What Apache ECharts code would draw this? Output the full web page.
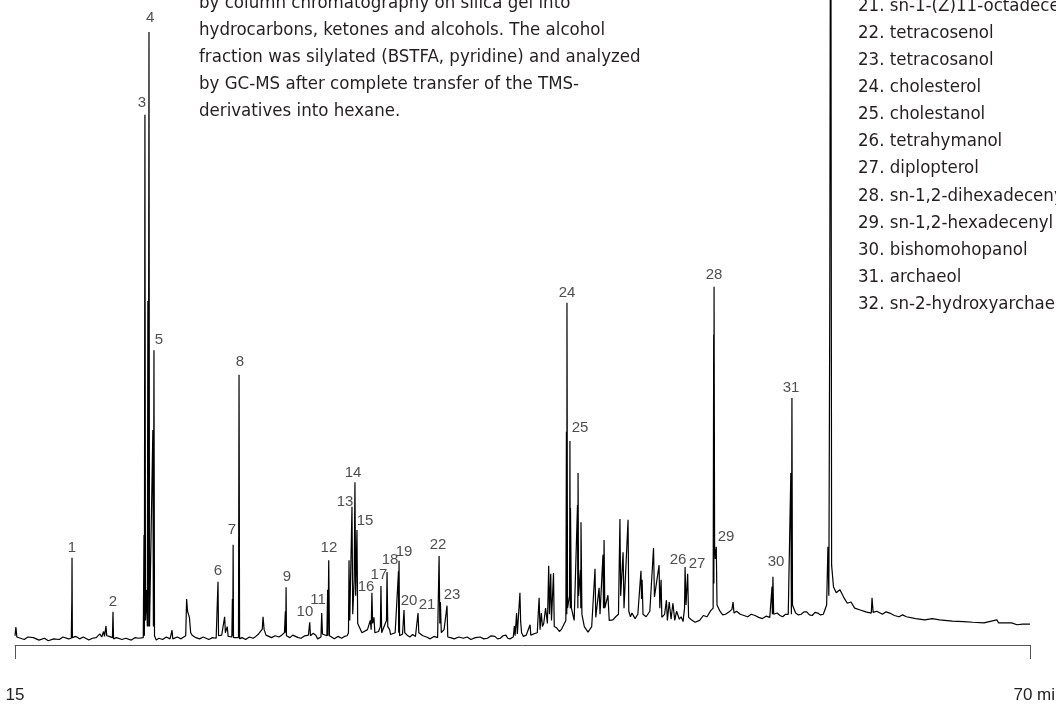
<!DOCTYPE html>
<html>
<head>
<meta charset="utf-8">
<script src="https://cdn.jsdelivr.net/npm/echarts@6/dist/echarts.min.js"></script>
<style>
  html, body { margin: 0; padding: 0; background: #fff; }
  #main { width: 1056px; height: 705px; }
</style>
</head>
<body>
<div id="main"></div>
<script>
// GC-MS trace of the silylated alcohol fraction
// [retention time (min), abundance (% of peak 4)]
var trace1 = [
  [15.0,1.5],[15.05,2.9],[15.1,1.3],[15.3,1.1],[15.5,0.9],[15.7,1.3],[16.0,1.2],[16.3,0.8],[16.6,1.1],
  [16.8,0.7],[17.1,1.0],[17.4,0.9],[17.6,1.3],[17.9,1.0],
  [18.05,1.1],[18.08,7.5],[18.09,14.2],[18.11,1.2],
  [18.3,1.4],[18.5,1.0],[18.7,1.3],[19.0,0.8],[19.2,1.1],[19.4,1.2],[19.6,1.8],[19.7,1.3],[19.8,2.2],
  [19.85,1.4],[19.93,3.1],[19.97,1.5],
  [20.1,1.4],[20.28,1.2],[20.31,5.4],[20.34,1.0],[20.5,1.2],[20.8,0.9],[21.0,1.1],[21.3,0.8],[21.5,1.2],[21.7,1.1],
  [21.95,1.2],[21.99,17.9],[22.01,1.5],[22.04,86.3],[22.07,4.0],[22.13,9.0],[22.17,3.0],
  [22.2,56.0],[22.22,3.0],[22.26,99.8],[22.29,3.0],[22.47,35.0],[22.5,3.0],[22.53,48.0],[22.56,1.5],
  [22.65,0.8],[22.8,1.1],[23.0,0.9],[23.2,1.3],[23.4,1.0],[23.51,2.4],[23.55,1.0],[23.8,1.3],[24.0,1.0],
  [24.25,1.5],[24.3,7.5],[24.35,5.5],[24.45,4.5],[24.52,2.0],[24.6,1.6],[24.8,1.2],[25.0,1.0],[25.2,1.3],
  [25.5,0.9],[25.7,1.2],[25.9,1.1],
  [25.97,1.3],[26.0,10.3],[26.03,1.5],[26.2,1.6],[26.36,4.6],[26.4,2.0],[26.5,3.0],[26.55,1.4],
  [26.75,1.3],[26.78,7.5],[26.8,1.5],[26.82,16.3],[26.84,1.2],
  [27.11,1.2],[27.14,44.0],[27.17,1.0],[27.3,1.2],[27.5,0.9],[27.7,1.3],[27.9,1.1],[28.05,1.4],[28.2,1.8],
  [28.4,2.6],[28.44,4.6],[28.5,2.5],[28.6,1.6],[28.75,1.4],[28.9,1.2],[29.1,1.5],[29.3,1.3],[29.45,1.6],
  [29.6,2.0],[29.65,5.5],[29.67,2.0],[29.69,9.4],[29.71,1.5],[29.9,1.2],[30.05,1.6],[30.2,1.4],[30.35,1.2],
  [30.5,1.1],[30.7,1.5],[30.9,1.6],[30.97,3.7],[31.01,1.5],[31.15,1.9],[31.3,1.6],[31.4,1.0],[31.5,1.3],
  [31.58,1.3],[31.62,5.2],[31.66,1.8],[31.9,1.5],[31.94,9.0],[31.96,1.5],[32.0,13.8],[32.04,1.5],
  [32.15,1.3],[32.3,1.0],[32.5,1.4],[32.7,1.1],[32.85,1.4],[33.0,1.5]
];
var trace2 = [
  [33.07,2.0],[33.1,13.8],[33.14,4.0],[33.26,22.5],[33.3,5.0],[33.38,10.6],[33.42,26.5],[33.46,8.0],
  [33.53,18.7],[33.57,3.5],[33.8,2.0],[34.1,2.5],[34.25,4.0],[34.3,2.5],[34.34,8.5],[34.38,3.5],
  [34.45,4.5],[34.5,2.0],[34.7,2.2],[34.8,3.0],[34.83,9.6],[34.87,2.0],[35.0,3.0],[35.13,4.0],
  [35.16,11.9],[35.2,3.0],[35.3,2.5],[35.35,1.7],[35.6,2.0],[35.78,12.0],[35.79,2.0],[35.81,13.7],
  [35.84,1.5],[36.0,1.8],[36.08,5.7],[36.12,2.0],[36.25,1.6],[36.4,1.3],[36.55,1.7],[36.7,1.4],
  [36.84,5.2],[36.88,2.0],[37.1,1.5],[37.3,1.3],[37.5,1.0],[37.7,1.4],[37.9,1.2],[37.98,14.5],
  [38.02,3.5],[38.05,7.0],[38.1,2.0],[38.25,2.5],[38.41,6.4],[38.45,1.3],[38.6,1.2],[38.8,1.0],
  [39.05,1.3],[39.3,1.1],[39.5,1.3],[39.7,0.9],[39.95,1.2],[40.2,1.3],[40.4,1.0],[40.6,1.1],[40.8,1.5],
  [41.0,1.4],[41.15,1.0],[41.3,1.1],[41.45,1.5],[41.6,1.6],[41.7,1.1],[41.82,1.0],[42.0,1.3],[42.06,3.1],
  [42.1,1.5],[42.18,5.2],[42.22,1.8],[42.36,8.5],[42.4,3.8],[42.45,2.0],[42.55,1.4],[42.7,1.6],
  [42.91,3.3],[42.95,1.6],[43.1,1.8],[43.3,2.0],[43.4,7.7],[43.45,2.5],[43.52,5.2],[43.58,3.0],
  [43.65,3.5],[43.75,6.0],[43.85,3.5],[43.92,12.9],[43.96,5.0]
];
var trace3 = [
  [44.03,11.6],[44.07,4.0],[44.18,11.7],[44.22,3.0],[44.35,2.8],[44.5,2.2],[44.62,2.6],
  [44.85,4.0],[44.88,34.7],[44.9,5.0],[44.91,55.7],[44.94,6.0],[45.05,8.0],[45.07,33.2],[45.09,6.0],
  [45.1,22.3],[45.15,6.0],[45.3,4.0],[45.48,22.8],[45.5,6.0],[45.51,28.0],[45.54,8.0],[45.64,12.2],
  [45.66,6.0],[45.67,20.0],[45.72,5.0],[45.85,3.0],[46.05,2.1],[46.25,3.0],[46.43,12.4],[46.47,4.5],
  [46.65,9.3],[46.7,5.0],[46.86,14.7],[46.89,6.0],[46.92,17.1],[46.96,6.0],[47.13,8.1],[47.2,4.0],
  [47.4,4.1],[47.55,4.6],[47.7,5.0],[47.78,20.5],[47.82,8.0],[47.95,15.1],[48.0,6.0],[48.22,20.4],
  [48.26,5.5],[48.35,4.6],[48.43,5.2],[48.6,4.3],[48.75,5.0],[48.92,12.1],[48.95,7.5],[48.98,10.6],
  [49.03,5.0],[49.2,4.6],[49.4,5.5],[49.6,15.8],[49.65,7.8],[49.9,13.0],[49.94,6.0],[50.01,10.6],
  [50.05,4.5],[50.2,5.0],[50.3,7.3],[50.35,4.0],[50.45,7.0],[50.55,4.2],[50.65,6.8],[50.75,4.0],
  [50.85,5.5],[51.0,4.2],[51.1,4.6],[51.2,3.8],[51.28,6.0],[51.31,12.7],[51.36,6.5],[51.45,11.6],
  [51.5,4.5],[51.65,4.1],[51.85,3.7],[52.1,4.0],[52.3,4.8],[52.5,4.6],[52.7,5.6],
  [52.83,6.0],[52.86,50.5],[52.87,10.0],[52.88,58.3],[52.91,16.0],[52.95,14.0],[53.0,16.0],[53.04,6.5],
  [53.2,5.5],[53.35,4.9],[53.5,5.0],[53.7,5.4],[53.85,5.8],[53.91,7.0],[53.96,5.2],[54.1,5.5],[54.3,5.0],
  [54.5,4.8],[54.7,4.6],[54.9,5.0],[55.1,4.8],[55.3,4.5],[55.5,4.3],[55.7,4.7],[55.9,4.5],
  [56.02,9.5],[56.04,5.0],[56.07,11.1],[56.11,5.0],[56.3,5.2],[56.45,4.8],[56.6,4.6],[56.75,5.0],
  [56.9,5.0],[57.04,28.0],[57.07,5.0],[57.1,40.2],[57.13,6.5],[57.3,5.2],[57.45,4.9],[57.6,5.0],
  [57.75,5.4],[57.9,5.4],[58.05,4.9],[58.2,4.8],[58.35,5.3],[58.5,5.2],[58.65,4.9],[58.8,5.0],[58.98,6.5]
];
var trace4 = [
  [59.05,16.0],[59.1,8.0],[59.15,55.7],[59.2,150],[59.25,13.0],[59.35,9.5],[59.5,8.5],[59.7,9.0],
  [59.9,7.8],[60.1,6.8],[60.3,7.0],[60.5,6.0],[60.8,5.7],[61.1,5.4],[61.4,5.2],[61.44,7.7],[61.5,5.3],
  [61.7,5.5],[62.0,5.0],[62.2,5.4],[62.4,5.2],[62.65,4.8],[62.9,4.6],[63.1,4.9],[63.3,4.6],[63.8,4.3],
  [64.3,4.1],[64.7,4.3],[65.1,4.1],[65.8,3.9],[66.4,3.8],[66.9,3.7],[67.5,3.6],[68.2,4.1],[68.3,3.6],
  [69.0,3.6],[69.3,3.3],[69.6,3.4],[70.0,3.4]
];

// peak numbers and where their labels sit (time, abundance)
var peakNo = [1,2,3,4,5,6,7,8,9,10,11,12,13,14,15,16,17,18,19,20,21,22,23,24,25,26,27,28,29,30,31];
var labelTime = [18.09,20.31,21.88,22.32,22.80,26.00,26.76,27.19,29.74,30.71,31.42,32.01,32.88,33.32,
  33.97,34.02,34.72,35.32,36.08,36.35,37.33,37.92,38.68,44.91,45.62,50.93,51.96,52.88,53.53,56.24,57.05];
var labelLevel = [15.8,7.0,88.3,102.1,49.7,12.1,18.7,46.1,11.1,5.4,7.3,15.8,23.3,28.0,
  20.2,9.4,11.4,13.8,15.1,7.2,6.5,16.3,8.1,57.3,35.3,13.8,13.2,60.3,17.6,13.5,41.9];

var introLines = [
  "by column chromatography on silica gel into",
  "hydrocarbons, ketones and alcohols. The alcohol",
  "fraction was silylated (BSTFA, pyridine) and analyzed",
  "by GC-MS after complete transfer of the TMS-",
  "derivatives into hexane."
];
var compoundLines = [
  "21. sn-1-(Z)11-octadecenyl glycerol",
  "22. tetracosenol",
  "23. tetracosanol",
  "24. cholesterol",
  "25. cholestanol",
  "26. tetrahymanol",
  "27. diplopterol",
  "28. sn-1,2-dihexadecenyl glycerol",
  "29. sn-1,2-hexadecenyl hexadecyl glycerol",
  "30. bishomohopanol",
  "31. archaeol",
  "32. sn-2-hydroxyarchaeol"
];
var timeTicks = [15, 70];

var textFont = "'DejaVu Sans Condensed', 'Liberation Sans Narrow', sans-serif";
var narrowFont = "'Liberation Sans Narrow', 'Liberation Sans', sans-serif";

var trace = trace1.concat(trace2, trace3, trace4);
var labelData = peakNo.map(function (n, i) {
  return [labelTime[i], labelLevel[i], n];
});

var myChart = echarts.init(document.getElementById("main"), null, { renderer: "canvas" });

var option = {
  animation: false,
  backgroundColor: "#fff",
  grid: { left: 15, right: 26, top: 0, bottom: 60, outerBoundsMode: "none", containLabel: false },
  xAxis: {
    type: "value",
    min: timeTicks[0],
    max: timeTicks[1],
    interval: timeTicks[1] - timeTicks[0],
    offset: 23,
    axisLine: { show: true, lineStyle: { color: "#555", width: 1 } },
    axisTick: { show: true, inside: false, length: 14, lineStyle: { color: "#555" } },
    axisLabel: {
      margin: 19,
      fontSize: 17,
      fontFamily: narrowFont,
      color: "#222",
      formatter: function (v) { return v === 70 ? "{end|70 min}" : String(v); },
      rich: {
        end: { fontSize: 17, fontFamily: narrowFont, color: "#222", padding: [0, 0, 0, 18] }
      }
    },
    splitLine: { show: false }
  },
  yAxis: { type: "value", min: 0, max: 105, show: false },
  graphic: [
    {
      type: "text",
      x: 199,
      y: -10.5,
      style: {
        text: introLines.join("\n"),
        font: "18.5px " + textFont,
        fill: "#231f20",
        lineHeight: 27,
        verticalAlign: "top"
      }
    },
    {
      type: "text",
      x: 858,
      y: -7.5,
      style: {
        text: compoundLines.join("\n"),
        font: "18.5px " + textFont,
        fill: "#231f20",
        lineHeight: 27.1,
        verticalAlign: "top"
      }
    }
  ],
  series: [
    {
      name: "TIC",
      type: "line",
      data: trace,
      showSymbol: false,
      symbol: "none",
      sampling: "none",
      lineStyle: { color: "#000", width: 1.2 },
      silent: true
    },
    {
      name: "peaks",
      type: "scatter",
      data: labelData,
      symbolSize: 0,
      silent: true,
      label: {
        show: true,
        position: "inside",
        fontSize: 15,
        fontFamily: narrowFont,
        color: "#222",
        formatter: function (p) { return p.value[2]; }
      }
    }
  ]
};

myChart.setOption(option);
window.addEventListener("resize", myChart.resize);
</script>
</body>
</html>
